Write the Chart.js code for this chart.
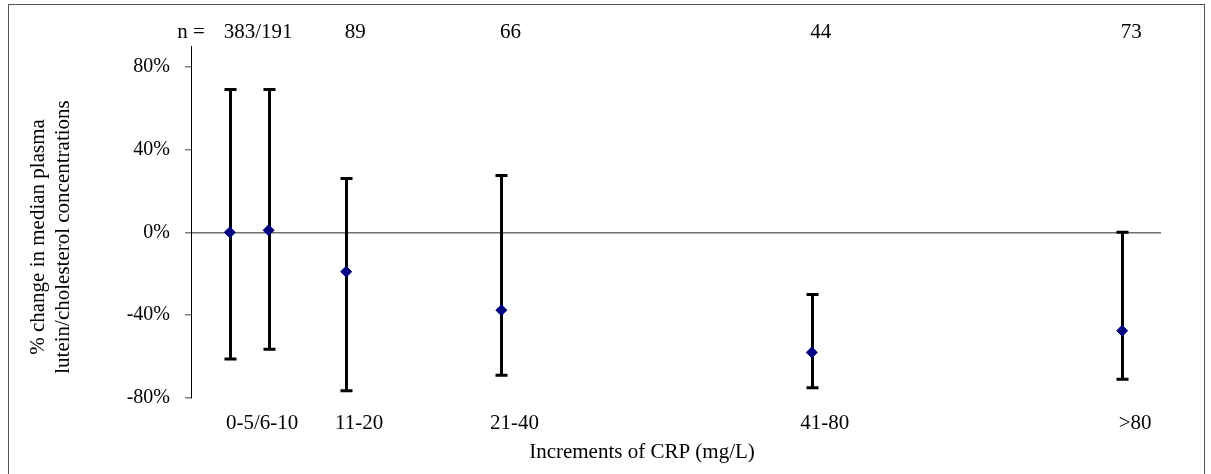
<!DOCTYPE html>
<html lang="en">
<head>
  <meta charset="UTF-8" />
  <title>Lutein/cholesterol vs CRP</title>
  <script src="https://cdn.jsdelivr.net/npm/chart.js"></script>
  <style>
    body {margin:0; background:#fff;}
    #wrap {width:1211px; height:474px; position:relative;}
  </style>
</head>
<body>
  <div id="wrap"><canvas id="chart"></canvas></div>

  <script>
    // data
    const groups = ['0-5/6-10', '11-20', '21-40', '41-80', '>80'];
    const nCounts = ['383/191', '89', '66', '44', '73'];
    const crpX = [1, 2, 4, 8, 16, 24];
    const groupOf = [0, 0, 1, 2, 3, 4];
    const medianChange = [0.0, 0.01, -0.19, -0.376, -0.58, -0.475];
    const upperErr = [0.69, 0.69, 0.26, 0.275, -0.30, 0.0];
    const lowerErr = [-0.612, -0.564, -0.765, -0.69, -0.75, -0.71];
    const yTicks = [-0.8, -0.4, 0, 0.4, 0.8];

    const FONT = 'Liberation Serif, Times New Roman, serif';

    // mean x of the points in each group, used to anchor the labels
    const groupX = groups.map((g, i) => {
      const xs = crpX.filter((x, j) => groupOf[j] === i);
      return xs.reduce((a, b) => a + b, 0) / xs.length;
    });

    const errorBars = {
      id: 'errorBars',
      beforeDatasetsDraw(chart) {
        const {ctx, scales:{x, y}} = chart;
        ctx.save();
        ctx.strokeStyle = '#000';
        ctx.lineWidth = 3;
        crpX.forEach((v, i) => {
          const px = Math.round(x.getPixelForValue(v)) + 0.5;
          const top = y.getPixelForValue(upperErr[i]);
          const bot = y.getPixelForValue(lowerErr[i]);
          ctx.beginPath();
          ctx.moveTo(px, top); ctx.lineTo(px, bot);
          ctx.moveTo(px - 6, top); ctx.lineTo(px + 6, top);
          ctx.moveTo(px - 6, bot); ctx.lineTo(px + 6, bot);
          ctx.stroke();
        });
        ctx.restore();
      }
    };

    const extras = {
      id: 'extras',
      beforeDraw(chart) {
        const ctx = chart.ctx;
        ctx.save();
        ctx.strokeStyle = '#555';
        ctx.lineWidth = 1;
        ctx.strokeRect(8.5, 4.5, 1196, 490);
        ctx.restore();
      },
      afterDraw(chart) {
        const {ctx, chartArea, scales:{x}} = chart;
        ctx.save();
        ctx.fillStyle = '#000';
        ctx.font = '21px ' + FONT;
        ctx.textAlign = 'center';
        ctx.textBaseline = 'middle';
        // n = row
        ctx.fillText('n =', chartArea.left, 32);
        nCounts.forEach((t, i) => ctx.fillText(t, x.getPixelForValue(groupX[i]) + 9, 32));
        // x title
        ctx.fillText('Increments of CRP (mg/L)', 642, 452);
        // y title
        ctx.translate(50.5, 237);
        ctx.rotate(-Math.PI / 2);
        ctx.fillText('% change in median plasma', 0, -12.5);
        ctx.fillText('lutein/cholesterol concentrations', 0, 12.5);
        ctx.restore();
      }
    };

    new Chart(document.getElementById('chart'), {
      type: 'scatter',
      data: {
        datasets: [{
          data: crpX.map((v, i) => ({x: v, y: medianChange[i]})),
          pointStyle: 'rectRot',
          pointRadius: 5.5,
          pointHoverRadius: 5.5,
          backgroundColor: '#000080',
          borderColor: '#000080',
          borderWidth: 1
        }]
      },
      options: {
        responsive: true,
        maintainAspectRatio: false,
        animation: false,
        layout: {padding: {left: 0, top: 46, right: 50, bottom: 0}},
        plugins: {legend: {display: false}, tooltip: {enabled: false}},
        scales: {
          x: {
            type: 'linear', min: 0, max: 25,
            grid: {display: false, drawTicks: false},
            border: {display: false},
            afterBuildTicks: s => { s.ticks = groupX.map(v => ({value: v})); },
            afterFit: s => { s.height = 76; },
            ticks: {
              padding: 13, labelOffset: 13, maxRotation: 0, autoSkip: false,
              color: '#000', font: {family: FONT, size: 21},
              callback: (v, i) => groups[i]
            }
          },
          y: {
            min: -0.8, max: 0.9,
            afterBuildTicks: s => { s.ticks = yTicks.map(v => ({value: v})); },
            afterFit: s => { s.width = 191; },
            border: {display: true, color: '#000', width: 1},
            grid: {
              color: c => (c.tick && c.tick.value === 0) ? '#707070' : 'rgba(0,0,0,0)',
              lineWidth: 1.5,
              tickColor: '#808080',
              tickLength: 6
            },
            ticks: {
              padding: 15, color: '#000', font: {family: FONT, size: 20},
              callback: v => Math.round(v * 100) + '%'
            }
          }
        }
      },
      plugins: [errorBars, extras]
    });
  </script>
</body>
</html>
